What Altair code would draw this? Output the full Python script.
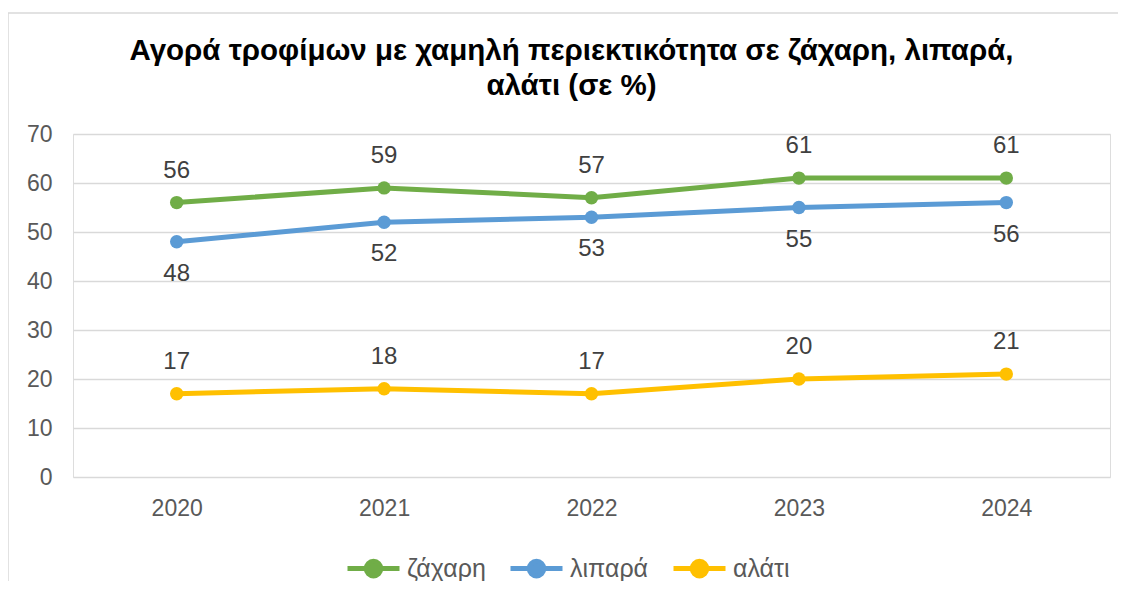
import altair as alt
import pandas as pd

years = ["2020", "2021", "2022", "2023", "2024"]
series_names = ["ζάχαρη", "λιπαρά", "αλάτι"]
zachari = [56, 59, 57, 61, 61]
lipara = [48, 52, 53, 55, 56]
alati = [17, 18, 17, 20, 21]
colors = ["#70AD47", "#5B9BD5", "#FFC000"]

rows = []
for name, vals in zip(series_names, [zachari, lipara, alati]):
    for y, v in zip(years, vals):
        rows.append({"year": y, "series": name, "value": v})
df = pd.DataFrame(rows)

W, H = 1037, 343
FONT = "Liberation Sans"

color_scale = alt.Scale(domain=series_names, range=colors)
sym_path = "M-1,0H1M-0.28,0A0.28,0.28,0,1,0,0.28,0A0.28,0.28,0,1,0,-0.28,0Z"

x_enc = alt.X("year:O", scale=alt.Scale(type="point", padding=0.5),
              axis=alt.Axis(title=None, labelAngle=0, ticks=False, domain=False,
                            labelPadding=20, labelFontSize=23, labelColor="#595959",
                            labelFont=FONT))
y_enc = alt.Y("value:Q", scale=alt.Scale(domain=[0, 70]),
              axis=alt.Axis(title=None, values=list(range(0, 71, 10)), ticks=False,
                            domain=False, labelPadding=21, labelFontSize=23,
                            labelColor="#595959", labelFont=FONT,
                            gridColor="#D9D9D9", gridWidth=1.5))

base = alt.Chart(df)

lines = base.mark_line(
    strokeWidth=5,
    point=alt.OverlayMarkDef(filled=True, size=180, opacity=1),
).encode(
    x=x_enc,
    y=y_enc,
    color=alt.Color("series:N", scale=color_scale, sort=series_names,
                    legend=alt.Legend(title=None, orient="none", direction="horizontal",
                                      legendX=272, legendY=406,
                                      symbolType=sym_path, symbolSize=2704,
                                      symbolStrokeWidth=5, labelFontSize=25,
                                      labelColor="#595959", labelFont=FONT,
                                      labelOffset=5, columnPadding=14)),
)

label_style = dict(fontSize=24, color="#404040", font=FONT, baseline="middle")

labels_above = base.transform_filter(
    alt.FieldOneOfPredicate(field="series", oneOf=["ζάχαρη", "αλάτι"])
).mark_text(dy=-32, **label_style).encode(
    x=alt.X("year:O"), y=alt.Y("value:Q"), text="value:Q"
)

labels_below = base.transform_filter(
    alt.FieldEqualPredicate(field="series", equal="λιπαρά")
).mark_text(dy=32, **label_style).encode(
    x=alt.X("year:O"), y=alt.Y("value:Q"), text="value:Q"
)

frame = alt.Chart(alt.Data(values=[{}])).mark_rect(
    fill="transparent", stroke="#D9D9D9", strokeWidth=1.5
).encode(
    x=alt.value(-65), x2=alt.value(W + 40), y=alt.value(-121), y2=alt.value(H + 200)
)

chart = alt.layer(frame, lines, labels_above, labels_below).properties(
    width=W,
    height=H,
    title=alt.TitleParams(
        text=["Αγορά τροφίμων με χαμηλή περιεκτικότητα σε ζάχαρη, λιπαρά,",
              "αλάτι (σε %)"],
        font=FONT, fontSize=29.5, fontWeight="bold", color="#000000",
        anchor="middle", frame="group", dx=-20, offset=-89, lineHeight=35,
    ),
    autosize=alt.AutoSizeParams(type="none"),
    padding={"left": 65, "top": 126, "right": 8, "bottom": 104},
).configure_view(stroke=None).configure(background="white")

chart.save("out.html", embed_options={"renderer": "svg", "actions": False})
